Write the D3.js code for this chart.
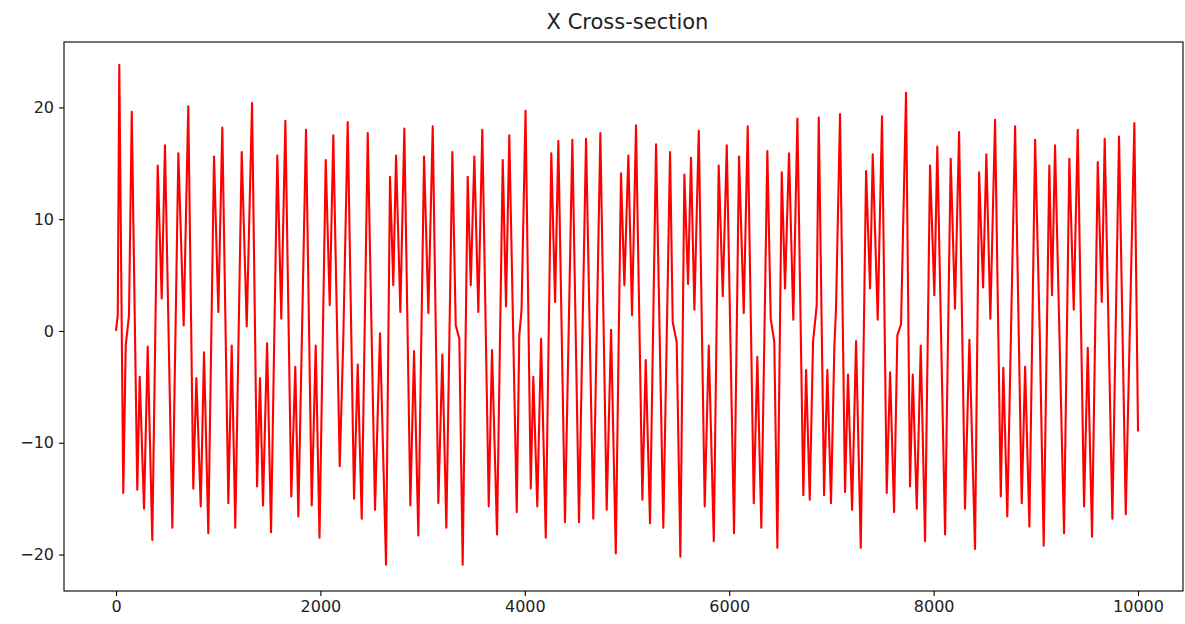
<!DOCTYPE html>
<html>
<head>
<meta charset="utf-8">
<script src="https://cdn.jsdelivr.net/npm/d3@7"></script>
<style>
  body { margin: 0; background: #fff; }
  svg { display: block; font-family: "DejaVu Sans", sans-serif; }
</style>
</head>
<body>
<script>
// turning points of the x trace as [step, x]
const stepsA = [
  [0, 0], [17, 1.4], [32, 23.8], [71, -14.5], [95, -1.3], [127, 1.4], [154, 19.6],
  [208, -14.2], [232, -4.1], [274, -15.9], [310, -1.4], [355, -18.7], [408, 14.8],
  [447, 2.9], [479, 16.6], [551, -17.6], [610, 15.9], [662, 0.5], [707, 20.1],
  [756, -14.1], [786, -4.2], [829, -15.7], [861, -1.9], [903, -18.1], [959, 15.6],
  [1001, 1.7], [1040, 18.2], [1099, -15.4], [1132, -1.3], [1167, -17.6], [1230, 16.0],
  [1279, 0.4], [1331, 20.4], [1380, -13.9], [1409, -4.2], [1438, -15.6], [1478, -1.1],
  [1517, -18.0], [1578, 15.7], [1617, 1.1], [1657, 18.8], [1715, -14.8], [1754, -3.2],
  [1784, -16.6], [1859, 18.0], [1915, -15.6], [1954, -1.3], [1991, -18.5]
];
const stepsB = [
  [2052, 15.3], [2091, 2.3], [2126, 17.5], [2189, -12.1], [2224, -0.6], [2267, 18.7],
  [2329, -15.0], [2365, -3.0], [2404, -16.8], [2463, 17.7], [2534, -16.0], [2583, -0.2],
  [2642, -20.9], [2681, 13.8], [2713, 4.1], [2740, 15.7], [2782, 1.7], [2821, 18.1],
  [2880, -15.6], [2916, -1.8], [2958, -18.3], [3014, 15.6], [3056, 1.6], [3099, 18.3],
  [3154, -15.4], [3193, -2.1], [3232, -17.6], [3291, 16.0], [3324, 0.5], [3359, -0.7],
  [3392, -20.9], [3441, 13.8], [3471, 4.1], [3506, 15.6], [3545, 1.7], [3584, 18.0],
  [3647, -15.7], [3679, -1.7], [3728, -18.2], [3784, 15.3], [3816, 2.2], [3848, 17.5],
  [3921, -16.2], [3946, -0.4], [3968, 1.9]
];
const stepsC = [
  [4007, 19.7], [4058, -14.1], [4083, -4.1], [4122, -15.7], [4159, -0.7], [4205, -18.5],
  [4259, 15.9], [4296, 2.6], [4328, 17.0], [4393, -17.1], [4465, 17.1], [4530, -17.1],
  [4599, 17.2], [4670, -16.8], [4739, 17.7], [4801, -16.0], [4844, 0.1], [4890, -19.9],
  [4941, 14.1], [4974, 4.1], [5013, 15.7], [5049, 1.4], [5088, 18.4], [5150, -15.1],
  [5183, -2.6], [5225, -17.2], [5284, 16.7], [5355, -17.6], [5421, 16.0], [5447, 0.8],
  [5486, -1.0], [5522, -20.2], [5561, 14.0], [5597, 4.2], [5626, 15.5], [5659, 1.9],
  [5702, 17.9], [5760, -15.7], [5800, -1.3], [5849, -18.8], [5897, 14.8], [5937, 3.1],
  [5976, 16.6]
];
const stepsD = [
  [6047, -18.1], [6096, 15.6], [6142, 1.6], [6181, 18.3], [6240, -15.4], [6275, -2.3],
  [6314, -17.6], [6373, 16.1], [6406, 1.1], [6441, -1.0], [6471, -19.4], [6514, 14.2],
  [6546, 3.8], [6585, 15.9], [6627, 1.0], [6667, 19.0], [6725, -14.7], [6752, -3.5],
  [6788, -15.1], [6820, -1.0], [6856, 2.3], [6876, 19.1], [6928, -14.7], [6960, -3.5],
  [6996, -15.4], [7029, -1.3], [7045, 2.0], [7084, 19.4], [7133, -14.4], [7162, -3.9],
  [7202, -16.0], [7241, -0.9], [7287, -19.4], [7339, 14.3], [7378, 3.8], [7404, 15.8],
  [7453, 1.0], [7495, 19.2], [7541, -14.5], [7574, -3.7], [7613, -16.2], [7645, -0.4],
  [7681, 0.6], [7730, 21.3], [7769, -13.9], [7796, -3.9], [7835, -15.9], [7874, -1.3],
  [7916, -18.8], [7965, 14.8]
];
const stepsE = [
  [8007, 3.2], [8036, 16.5], [8112, -18.2], [8167, 15.4], [8209, 2.0], [8249, 17.8],
  [8307, -15.9], [8350, -0.8], [8405, -19.5], [8445, 14.2], [8484, 3.9], [8516, 15.8],
  [8555, 1.1], [8601, 18.9], [8657, -14.8], [8682, -3.3], [8721, -16.6], [8797, 18.3],
  [8862, -15.4], [8895, -3.2], [8937, -17.5], [8993, 17.1], [9038, -0.1], [9077, -19.2],
  [9132, 14.8], [9158, 3.2], [9188, 16.6], [9276, -18.1], [9328, 15.4], [9371, 1.9],
  [9410, 18.0], [9472, -15.7], [9508, -1.5], [9550, -18.4], [9606, 15.1], [9645, 2.6],
  [9674, 17.2], [9749, -16.8], [9814, 17.4], [9880, -16.4], [9964, 18.6], [10000, -9.0]
];

const xTicks = [0, 2000, 4000, 6000, 8000, 10000];
const yTicks = [-20, -10, 0, 10, 20];
const title = 'X Cross-section';

const trace = [].concat(stepsA, stepsB, stepsC, stepsD, stepsE);

const width = 1185;
const height = 624;
const margin = { top: 42, right: 2, bottom: 33, left: 64 };

const svg = d3.select('body')
  .append('svg')
  .attr('width', width)
  .attr('height', height);

// scales (the reference is cropped on the right, so the x domain is not symmetric)
const xScale = d3.scaleLinear()
  .domain([-509, 10440])
  .range([margin.left, width - margin.right]);

const yScale = d3.scaleLinear()
  .domain([-23.26, 25.85])
  .range([height - margin.bottom, margin.top]);

// the trace
const line = d3.line()
  .x(d => xScale(d[0]))
  .y(d => yScale(d[1]));

svg.append('path')
  .datum(trace)
  .attr('d', line)
  .attr('fill', 'none')
  .attr('stroke', '#ff0000')
  .attr('stroke-width', 2.1)
  .attr('stroke-linejoin', 'round');

// axes
const xAxis = d3.axisBottom(xScale).tickValues(xTicks).tickSize(5).tickPadding(5)
  .tickFormat(d3.format('d'));
const yAxis = d3.axisLeft(yScale).tickValues(yTicks).tickSize(5).tickPadding(5)
  .tickFormat(d => d < 0 ? '\u2212' + Math.abs(d) : d);

const gx = svg.append('g')
  .attr('transform', `translate(0,${height - margin.bottom})`)
  .call(xAxis);

const gy = svg.append('g')
  .attr('transform', `translate(${margin.left},0)`)
  .call(yAxis);

[gx, gy].forEach(g => {
  g.select('.domain').remove();
  g.selectAll('line').attr('stroke', '#000').attr('stroke-width', 1.1);
  g.selectAll('text')
    .attr('fill', '#222')
    .style('font-family', '"DejaVu Sans", sans-serif')
    .style('font-size', '16px');
});

// frame
svg.append('rect')
  .attr('x', margin.left)
  .attr('y', margin.top)
  .attr('width', width - margin.right - margin.left)
  .attr('height', height - margin.bottom - margin.top)
  .attr('fill', 'none')
  .attr('stroke', '#000')
  .attr('stroke-width', 1.1);

// title
svg.append('text')
  .attr('x', (margin.left + width) / 2 + 3)
  .attr('y', 29)
  .attr('text-anchor', 'middle')
  .attr('fill', '#222')
  .style('font-size', '21px')
  .text(title);
</script>
</body>
</html>
